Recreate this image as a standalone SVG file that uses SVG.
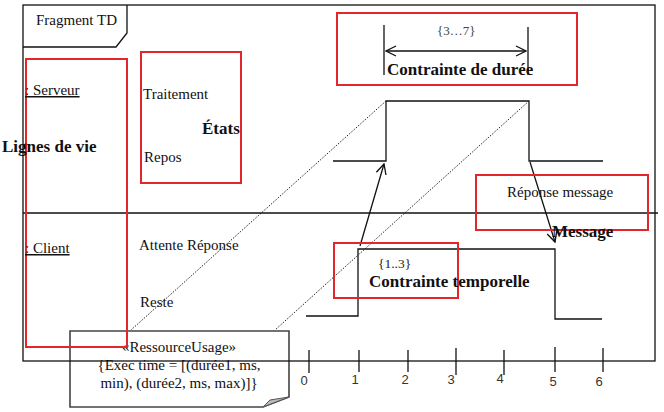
<svg xmlns="http://www.w3.org/2000/svg" width="664" height="412" viewBox="0 0 664 412">
<defs>
<marker id="open" viewBox="0 0 12 12" refX="11" refY="6" markerWidth="12" markerHeight="12" markerUnits="userSpaceOnUse" orient="auto-start-reverse">
<path d="M1,1 L11,6 L1,11" fill="none" stroke="#111" stroke-width="1.3"/>
</marker>
</defs>
<style>
text{font-family:"Liberation Serif","Times New Roman",serif;font-size:15px;fill:#111}
.b{font-weight:bold;font-size:17px}
.s{font-size:13px;fill:#444}
.ax{font-family:"Liberation Sans",Arial,sans-serif;font-size:13px;fill:#333;text-anchor:middle}
.ln{fill:none;stroke:#111;stroke-width:1.3}
.dot{fill:none;stroke:#222;stroke-width:1;stroke-dasharray:1.5 1.5}
.red{fill:none;stroke:#e3262b;stroke-width:2}
.u{text-decoration:underline}
</style>
<rect width="664" height="412" fill="#fff"/>

<g id="waveforms">
<polyline class="ln" points="333,161 386,161 386,101 529,101 529,161 603,161"/>
<polyline class="ln" points="306,316 358,316 358,249 555,249 555,319 602,319"/>
</g>

<g id="connectors">
<line class="dot" x1="386" y1="101" x2="131" y2="330"/>
<line class="dot" x1="529" y1="101" x2="275" y2="330"/>
<line class="ln" x1="360" y1="246" x2="384" y2="164" marker-end="url(#open)"/>
<line class="ln" x1="530" y1="162" x2="555" y2="242" marker-end="url(#open)"/>
<line class="ln" x1="384" y1="25" x2="384" y2="75"/>
<line class="ln" x1="528" y1="27" x2="528" y2="75"/>
<line class="ln" x1="386" y1="51" x2="526" y2="51" marker-start="url(#open)" marker-end="url(#open)"/>
</g>

<g id="note">
<polygon points="70,331 289,331 289,397 263,407 70,407" fill="#fff" stroke="#444" stroke-width="1.6"/>
<polygon points="263,407 289,397 270,400" fill="#bbb" stroke="#555" stroke-width="1"/>
<text x="179" y="352" text-anchor="middle">«RessourceUsage»</text>
<text x="179" y="370" text-anchor="middle">{Exec time = [(durée1, ms,</text>
<text x="179" y="388" text-anchor="middle">min), (durée2, ms, max)]}</text>
</g>

<g id="frame">
<rect class="ln" x="23" y="5" width="632" height="356"/>
<polyline class="ln" points="23,47 116,47 127,33 127,5"/>
<line class="ln" x1="23" y1="213" x2="658" y2="213"/>
<text x="36" y="25">Fragment TD</text>
</g>

<g id="axis">
<g class="ln">
<line x1="309" y1="350" x2="309" y2="373"/>
<line x1="359" y1="350" x2="359" y2="372"/>
<line x1="408" y1="350" x2="408" y2="372"/>
<line x1="456" y1="348" x2="456" y2="375"/>
<line x1="504" y1="350" x2="504" y2="375"/>
<line x1="555" y1="347" x2="555" y2="372"/>
<line x1="603" y1="348" x2="603" y2="372"/>
</g>
<text class="ax" x="304" y="385">0</text>
<text class="ax" x="355" y="384">1</text>
<text class="ax" x="405" y="384">2</text>
<text class="ax" x="451" y="384">3</text>
<text class="ax" x="500" y="383">4</text>
<text class="ax" x="553" y="386">5</text>
<text class="ax" x="599" y="386">6</text>
</g>

<g id="lifelines">
<rect class="red" x="26" y="59" width="101" height="288"/>
<text class="u" x="25" y="95">: Serveur</text>
<text class="u" x="25" y="253">: Client</text>
<text class="b" x="2" y="152">Lignes de vie</text>
</g>

<g id="states">
<text x="143" y="99">Traitement</text>
<text x="144" y="162">Repos</text>
<text x="139" y="250">Attente Réponse</text>
<text x="140" y="307">Reste</text>
<rect class="red" x="141" y="52" width="100" height="131"/>
<text class="b" x="202" y="134">États</text>
</g>

<g id="duree">
<rect class="red" x="337" y="13" width="240" height="72"/>
<text class="s" x="437" y="35">{3…7}</text>
<text class="b" x="387" y="75">Contrainte de durée</text>
</g>

<g id="reponse">
<rect class="red" x="476" y="175" width="172" height="55"/>
<text x="507" y="197">Réponse message</text>
<text class="b" x="552" y="237">Message</text>
</g>

<g id="temporelle">
<rect class="red" x="334" y="243" width="124" height="55"/>
<text class="s" x="378" y="268" style="fill:#222;font-size:13.5px">{1..3}</text>
<text class="b" x="369" y="287">Contrainte temporelle</text>
</g>
</svg>
